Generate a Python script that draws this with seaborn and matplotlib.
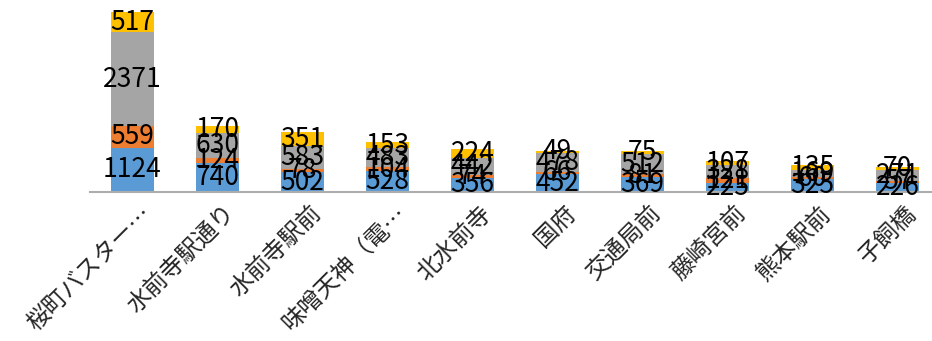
import matplotlib
matplotlib.use("Agg")
import matplotlib.pyplot as plt
import matplotlib.transforms as mtransforms
import numpy as np
import pandas as pd
import seaborn as sns

categories = ["桜町バスター…", "水前寺駅通り", "水前寺駅前", "味噌天神（電…", "北水前寺",
              "国府", "交通局前", "藤崎宮前", "熊本駅前", "子飼橋"]
series1 = [1124, 740, 502, 528, 356, 452, 369, 225, 325, 226]
series2 = [559, 124, 78, 104, 74, 66, 81, 121, 60, 57]
series3 = [2371, 630, 583, 483, 442, 478, 512, 328, 169, 271]
series4 = [517, 170, 351, 153, 224, 49, 75, 107, 135, 70]

colors = ["#5B9BD5", "#ED7D31", "#A5A5A5", "#FFC000"]

sns.set_theme(style="white")
plt.rcParams['font.family'] = ['Noto Sans CJK JP', 'DejaVu Sans']

fig = plt.figure(figsize=(9.32, 3.41), dpi=100)
ax = fig.add_axes([90/932, 149/341, 842/932, 182/341])

series = [series1, series2, series3, series4]
cum = np.cumsum(np.array(series), axis=0)

# draw cumulative layers from top to bottom so each covers the one beneath
for k in range(3, -1, -1):
    df = pd.DataFrame({"cat": categories, "val": cum[k]})
    sns.barplot(data=df, x="cat", y="val", color=colors[k], saturation=1,
                width=0.5, ax=ax, order=categories, linewidth=0, edgecolor="none")

# data labels centered in each segment
for k in range(4):
    bottoms = cum[k] - np.array(series[k])
    for i, v in enumerate(series[k]):
        ax.text(i, bottoms[i] + v / 2, str(v), ha="center", va="center",
                fontsize=19, color="#000000")

ax.set_xlim(-0.5, 9.406)
ax.set_ylim(0, 4622)
ax.set_xlabel("")
ax.set_ylabel("")
ax.set_yticks([])
for s in ["top", "right", "left"]:
    ax.spines[s].set_visible(False)
ax.spines["bottom"].set_color("#ADADAD")
ax.spines["bottom"].set_linewidth(1.5)
ax.tick_params(axis="x", length=0, pad=7)

offset = mtransforms.ScaledTranslation(7 / 100, 0, fig.dpi_scale_trans)
ax.set_xticks(range(len(categories)))
ax.set_xticklabels(categories, rotation=45, ha="right", rotation_mode="anchor",
                   fontsize=17)
for lbl in ax.get_xticklabels():
    lbl.set_transform(lbl.get_transform() + offset)

fig.savefig("out.png", dpi=100)
